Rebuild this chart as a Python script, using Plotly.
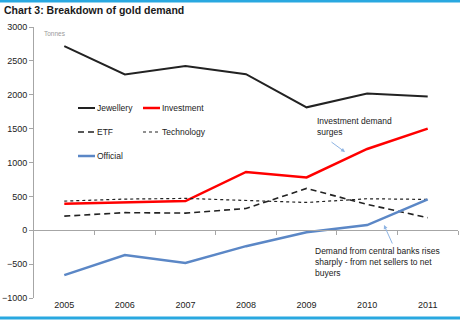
import plotly.graph_objects as go

years = ["2005", "2006", "2007", "2008", "2009", "2010", "2011"]
jewellery = [2719, 2300, 2423, 2304, 1814, 2017, 1973]
investment = [390, 410, 430, 860, 780, 1200, 1500]
etf = [208, 260, 253, 321, 617, 382, 185]
technology = [430, 460, 470, 440, 410, 465, 455]
official = [-663, -365, -484, -235, -30, 77, 455]
yticks = [-1000, -500, 0, 500, 1000, 1500, 2000, 2500, 3000]

xs = list(range(len(years)))
FONT = "Liberation Sans"

series = [
    ("Jewellery", jewellery, dict(color="#222222", width=2)),
    ("Investment", investment, dict(color="#ff0000", width=2.5)),
    ("ETF", etf, dict(color="#222222", width=1.6, dash="6px,4px")),
    ("Technology", technology, dict(color="#222222", width=1.2, dash="dot")),
    ("Official", official, dict(color="#5b87c6", width=2.5)),
]

fig = go.Figure()
for name, vals, line in series:
    fig.add_trace(go.Scatter(x=xs, y=vals, mode="lines", name=name, line=line,
                             showlegend=False, hoverinfo="skip"))
# invisible trace for the zero-line axis
fig.add_trace(go.Scatter(x=[0], y=[0], xaxis="x2", mode="markers",
                         marker=dict(opacity=0), showlegend=False, hoverinfo="skip"))

ymin, ymax = -1000, 3000
fig.update_layout(
    width=460, height=321,
    margin=dict(l=34, r=2, t=27, b=23),
    paper_bgcolor="white", plot_bgcolor="white",
    font=dict(family=FONT, size=9, color="#222222"),
    xaxis=dict(range=[-0.5, 6.5], tickmode="array", tickvals=xs, ticktext=years,
               showline=False, showgrid=False, zeroline=False, ticks="",
               tickfont=dict(size=9), fixedrange=True),
    xaxis2=dict(range=[-0.5, 6.5], overlaying="x", anchor="free",
                position=(0 - ymin) / (ymax - ymin),
                tickmode="array", tickvals=[0.5, 1.5, 2.5, 3.5, 4.5, 5.5, 6.5],
                showticklabels=False, ticks="outside", ticklen=4, tickcolor="#a6a6a6",
                showline=True, linecolor="#a6a6a6", linewidth=1,
                showgrid=False, zeroline=False),
    yaxis=dict(range=[ymin, ymax], tickmode="array", tickvals=yticks,
               showline=True, linecolor="#a6a6a6", linewidth=1,
               ticks="outside", ticklen=4, tickcolor="#a6a6a6",
               showgrid=False, zeroline=False, tickfont=dict(size=9)),
    showlegend=False,
)

# title and unit label
fig.add_annotation(text="<b>Chart 3: Breakdown of gold demand</b>", xref="paper", yref="paper",
                   x=-0.075, y=1.064, xanchor="left", yanchor="middle", showarrow=False,
                   font=dict(size=10.5, color="#1a1a1a", family=FONT))
fig.add_annotation(text="Tonnes", xref="paper", yref="paper", x=0.018, y=0.975,
                   xanchor="left", yanchor="middle", showarrow=False,
                   font=dict(size=6.5, color="#999999"))

# blue rules at top and bottom
for yy in [1.096, -0.0735]:
    fig.add_shape(type="line", xref="paper", yref="paper", x0=-0.09, x1=1.01, y0=yy, y1=yy,
                  line=dict(color="#29a8e0", width=3))

# custom legend
def pxx(p):
    return (p - 34) / (458 - 34)
def pxy(p):
    return (298 - p) / 271

legend_items = [
    ("Jewellery", 78, 108, series[0][2]),
    ("Investment", 143, 108, series[1][2]),
    ("ETF", 78, 132, series[2][2]),
    ("Technology", 143, 132, series[3][2]),
    ("Official", 78, 156, series[4][2]),
]
for name, x0, y0, line in legend_items:
    fig.add_shape(type="line", xref="paper", yref="paper", x0=pxx(x0), x1=pxx(x0 + 17),
                  y0=pxy(y0), y1=pxy(y0), line=dict(color=line["color"], width=line["width"],
                                                   dash=line.get("dash", "solid")))
    fig.add_annotation(text=name, xref="paper", yref="paper", x=pxx(x0 + 17), y=pxy(y0),
                       xanchor="left", yanchor="middle", showarrow=False,
                       font=dict(size=8.5, family=FONT))

# callouts
fig.add_annotation(text="Investment demand<br>surges", xref="paper", yref="paper",
                   x=pxx(315), y=pxy(126), xanchor="left", yanchor="middle", align="left",
                   showarrow=False, font=dict(size=8.5, family=FONT))
fig.add_annotation(x=pxx(345), y=pxy(152), ax=330 - 345, ay=141 - 152,
                   xref="paper", yref="paper", axref="pixel", ayref="pixel",
                   showarrow=True, arrowhead=2, arrowsize=0.8, arrowwidth=1,
                   arrowcolor="#8eb4e3", text="")
fig.add_annotation(text="Demand from central banks rises<br>sharply - from net sellers to net<br>buyers",
                   xref="paper", yref="paper", x=pxx(313), y=pxy(262), xanchor="left",
                   yanchor="middle", align="left", showarrow=False,
                   font=dict(size=8.5, family=FONT))
fig.add_annotation(x=pxx(384), y=pxy(225), ax=393 - 384, ay=245 - 225,
                   xref="paper", yref="paper", axref="pixel", ayref="pixel",
                   showarrow=True, arrowhead=2, arrowsize=0.8, arrowwidth=1,
                   arrowcolor="#8eb4e3", text="")

fig.write_html("out.html")
